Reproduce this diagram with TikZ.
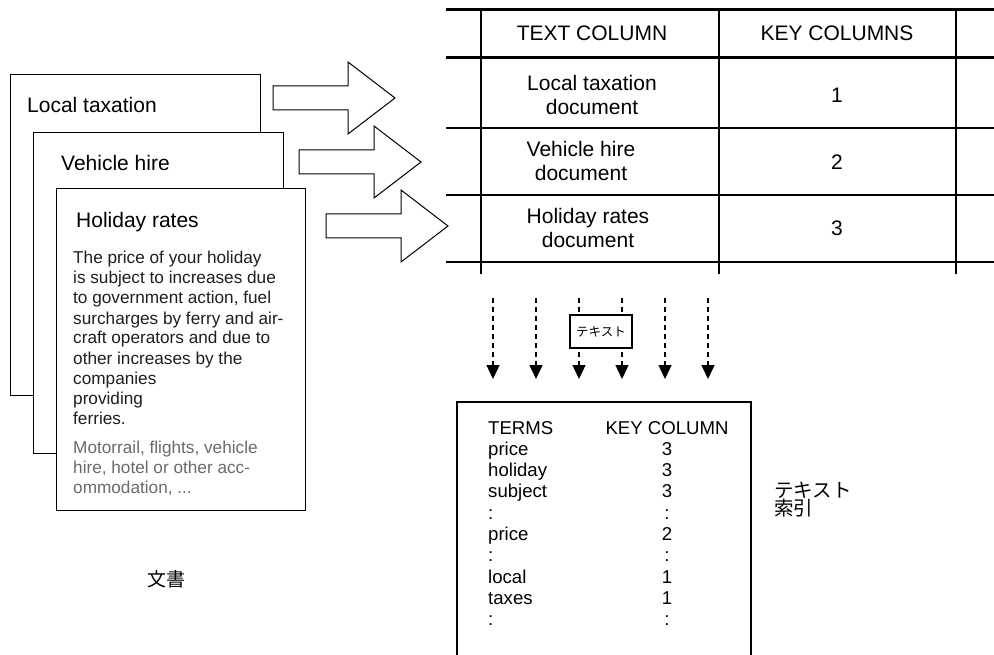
\documentclass[tikz,border=0pt]{standalone}
\usepackage{fontspec}
\setmainfont{Liberation Sans}
\newfontfamily\jp{Noto Sans CJK JP}
\usetikzlibrary{arrows.meta}
\begin{document}
\begin{tikzpicture}[x=1pt,y=-1pt,
  docbox/.style={draw, fill=white, line width=1.3pt, anchor=north west, inner sep=0pt},
  doctitle/.style={anchor=base west, inner sep=0pt, font=\fontsize{21}{24}\selectfont},
  bodytxt/.style={anchor=base west, inner sep=0pt, text=black!88, font=\fontsize{17.2}{20}\selectfont},
  greytxt/.style={anchor=base west, inner sep=0pt, text=black!58, font=\fontsize{17.2}{20}\selectfont},
  bigarrow/.style={draw, line width=1pt, fill=white},
  thickrule/.style={line width=3pt},
  thinrule/.style={line width=1.5pt},
  tabtxt/.style={align=center, inner sep=0pt, font=\fontsize{21}{24}\selectfont},
  dasharrow/.style={line width=1.4pt, dash pattern=on 5pt off 4pt, -{Triangle[width=13pt,length=14pt]}},
  idxtxt/.style={inner sep=0pt, font=\fontsize{18.6}{21}\selectfont},
  jplab/.style={anchor=base west, inner sep=0pt, font=\jp\fontsize{19.5}{20}\selectfont},
]
\useasboundingbox (0,0) rectangle (994,655);

% --- document stack ---
\node[docbox, minimum width=250pt, minimum height=321pt] (d1) at (10,74) {};
\node[doctitle] (t1) at (27,113) {Local taxation};
\node[docbox, minimum width=250pt, minimum height=321pt] (d2) at (33,132) {};
\node[doctitle] (t2) at (61,171) {Vehicle hire};
\node[docbox, minimum width=249pt, minimum height=322pt] (d3) at (56,188) {};
\node[doctitle] (t3) at (76,228) {Holiday rates};

\foreach \txt [count=\i] in {{The price of your holiday},{is subject to increases due},{to government action, fuel},{surcharges by ferry and air-},{craft operators and due to},{other increases by the},{companies},{providing},{ferries.}}
  \node[bodytxt] (b\i) at (73,{264+20*(\i-1)}) {\txt};
\node[greytxt] (g1) at (73,453) {Motorrail, flights, vehicle};
\node[greytxt] (g2) at (73,473) {hire, hotel or other acc-};
\node[greytxt] (g3) at (73,493) {ommodation, .{}.{}.};

\node[font=\jp\fontsize{19}{22}\selectfont, inner sep=0pt] (cap) at (166,579) {文書};

% --- big block arrows ---
\foreach \xl/\yc in {273/98, 299/162, 326/226}
  \draw[bigarrow] (\xl,\yc-12) -- (\xl+75,\yc-12) -- (\xl+75,\yc-36) -- (\xl+122,\yc)
     -- (\xl+75,\yc+36) -- (\xl+75,\yc+12) -- (\xl,\yc+12) -- cycle;

% --- table ---
\draw[thickrule] (446,10) -- (994,10);
\draw[thickrule] (446,58) -- (994,58);
\foreach \yy in {128,195,262}
  \draw[thinrule] (446,\yy) -- (994,\yy);
\foreach \xx in {481,719,956}
  \draw[thinrule] (\xx,10) -- (\xx,274);

\node[tabtxt] (h1) at (592,33) {TEXT COLUMN};
\node[tabtxt] (h2) at (837,33) {KEY COLUMNS};
\node[tabtxt] (r1) at (592,95) {Local taxation\\document};
\node[tabtxt] (n1) at (837,95) {1};
\node[tabtxt] (r2) at (581,161) {Vehicle hire\\document};
\node[tabtxt] (n2) at (837,162) {2};
\node[tabtxt] (r3) at (588,228) {Holiday rates\\document};
\node[tabtxt] (n3) at (837,228) {3};

% --- dashed arrows ---
\foreach \xx [count=\i] in {493,536,579,622,665,708} {
  \coordinate (s\i) at (\xx,298);
  \coordinate (e\i) at (\xx,379);
  \draw[dasharrow] (s\i) -- (e\i);
}
\node[draw, fill=white, line width=1.2pt, minimum width=62pt, minimum height=33pt, inner sep=0pt,
      font=\jp\fontsize{12.5}{14}\selectfont] (tb) at (601,331.5) {テキスト};

% --- index box ---
\draw[line width=1.3pt] (457,656) -- (457,402) -- (751,402) -- (751,656);
\node[idxtxt, anchor=base west] (it0) at (488,434) {TERMS};
\node[idxtxt, anchor=base] (ik0) at (667,434) {KEY COLUMN};
\foreach \t/\n [count=\i] in {price/3, holiday/3, subject/3, :/:, price/2, :/:, local/1, taxes/1, :/:} {
  \node[idxtxt, anchor=base west] (it\i) at (488,{434+21.3*\i}) {\t};
  \node[idxtxt, anchor=base] (ik\i) at (667,{434+21.3*\i}) {\n};
}

\node[jplab] (lab1) at (774,497.5) {テキスト};
\node[jplab] (lab2) at (774,515.5) {索引};
\end{tikzpicture}
\end{document}
